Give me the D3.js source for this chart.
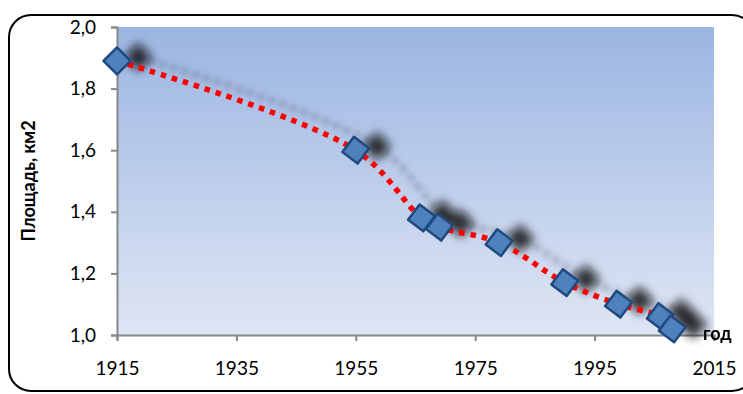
<!DOCTYPE html>
<html>
<head>
<meta charset="utf-8">
<script src="https://cdn.jsdelivr.net/npm/d3@7"></script>
<style>
  html, body { margin: 0; padding: 0; background: #fff; }
  svg { display: block; font-family: Lato, "Open Sans", sans-serif; }
</style>
</head>
<body>
<svg id="chart" width="743" height="394"></svg>
<script>
// Площадь по годам
const years = [1915, 1955, 1966, 1969, 1979, 1990, 1999, 2006, 2008];
const area  = [1.89, 1.60, 1.38, 1.35, 1.30, 1.17, 1.10, 1.06, 1.02];

const xTicks = [1915, 1935, 1955, 1975, 1995, 2015];
const yTicks = [1.0, 1.2, 1.4, 1.6, 1.8, 2.0];
const yTitle = "Площадь, км2";
const xTitle = "год";

const data = years.map((y, i) => ({ year: y, value: area[i] }));

const svg = d3.select("#chart");
const plot = { left: 117, right: 714, top: 27, bottom: 335 };

const x = d3.scaleLinear().domain([1915, 2015]).range([plot.left, plot.right]);
const y = d3.scaleLinear().domain([1.0, 2.0]).range([plot.bottom, plot.top]);

const defs = svg.append("defs");
const grad = defs.append("linearGradient")
  .attr("id", "plotFill").attr("x1", 0).attr("y1", 0).attr("x2", 0).attr("y2", 1);
grad.append("stop").attr("offset", "0%").attr("stop-color", "#9bb5e2");
grad.append("stop").attr("offset", "100%").attr("stop-color", "#dfe6f4");

function addBlur(id, sd) {
  defs.append("filter").attr("id", id)
    .attr("x", "-50%").attr("y", "-50%").attr("width", "200%").attr("height", "200%")
    .append("feGaussianBlur").attr("stdDeviation", sd);
}
addBlur("markerBlur", 5);
addBlur("lineBlur", 3);

// chart frame
svg.append("rect")
  .attr("x", 9).attr("y", 15).attr("width", 745).attr("height", 376)
  .attr("rx", 22).attr("ry", 22)
  .attr("fill", "none").attr("stroke", "#000").attr("stroke-width", 2);

// plot area
svg.append("rect")
  .attr("x", plot.left).attr("y", plot.top)
  .attr("width", plot.right - plot.left).attr("height", plot.bottom - plot.top)
  .attr("fill", "url(#plotFill)");

// axes
const yAxis = svg.append("g")
  .attr("transform", `translate(${plot.left},0)`)
  .call(d3.axisLeft(y).tickValues(yTicks).tickSize(6).tickPadding(15)
    .tickFormat(d => d3.format(".1f")(d).replace(".", ",")));
const xAxis = svg.append("g")
  .attr("transform", `translate(0,${plot.bottom})`)
  .call(d3.axisBottom(x).tickValues(xTicks).tickSize(6).tickPadding(21)
    .tickFormat(d3.format("d")));

[yAxis, xAxis].forEach(g => {
  g.attr("font-size", null).attr("font-family", null);
  g.select(".domain").attr("stroke", "#888").attr("stroke-width", 2);
  g.selectAll(".tick line").attr("stroke", "#888").attr("stroke-width", 2);
  g.selectAll(".tick text").attr("fill", "#000").style("font-size", "19px")
    .style("font-family", "Lato, 'Open Sans', sans-serif");
});

const lineGen = d3.line()
  .x(d => x(d.year)).y(d => y(d.value))
  .curve(d3.curveCatmullRom.alpha(0.5));

const diamond = 14.5;  // half-diagonal of marker
const shadowShift = "translate(21,-4)";

// soft shadow of the line
svg.append("path")
  .datum(data)
  .attr("transform", shadowShift)
  .attr("filter", "url(#lineBlur)")
  .attr("d", lineGen)
  .attr("fill", "none").attr("stroke", "#4a5366").attr("stroke-opacity", 0.55)
  .attr("stroke-width", 5.5)
  .attr("stroke-dasharray", "5.5,6");

// soft shadow of the markers
svg.append("g")
  .attr("transform", shadowShift)
  .attr("filter", "url(#markerBlur)")
  .selectAll("path")
  .data(data).join("path")
  .attr("transform", d => `translate(${x(d.year)},${y(d.value)})`)
  .attr("d", `M0,${-diamond}L${diamond},0L0,${diamond}L${-diamond},0Z`)
  .attr("fill", "#111").attr("fill-opacity", 0.8);

// dotted series line
svg.append("path")
  .datum(data)
  .attr("d", lineGen)
  .attr("fill", "none")
  .attr("stroke", "#ff0000")
  .attr("stroke-width", 5.5)
  .attr("stroke-dasharray", "5.5,6");

// markers
svg.selectAll("path.marker")
  .data(data).join("path").attr("class", "marker")
  .attr("transform", (d, i) => `translate(${x(d.year)},${y(d.value)}) rotate(${i === 0 ? 0 : -8})`)
  .attr("d", `M0,${-diamond + 1}L${diamond - 1},0L0,${diamond - 1}L${-diamond + 1},0Z`)
  .attr("fill", "#4f81bd")
  .attr("stroke", "#1f4a7f")
  .attr("stroke-width", 2.5)
  .attr("stroke-linejoin", "round");

// axis titles
svg.append("text")
  .attr("transform", `translate(35,${(plot.top + plot.bottom) / 2}) rotate(-90)`)
  .attr("text-anchor", "middle")
  .style("font-size", "18px").style("font-weight", "bold")
  .text(yTitle);

svg.append("text")
  .attr("x", 703).attr("y", 340)
  .style("font-size", "18px").style("font-weight", "bold")
  .text(xTitle);
</script>
</body>
</html>
